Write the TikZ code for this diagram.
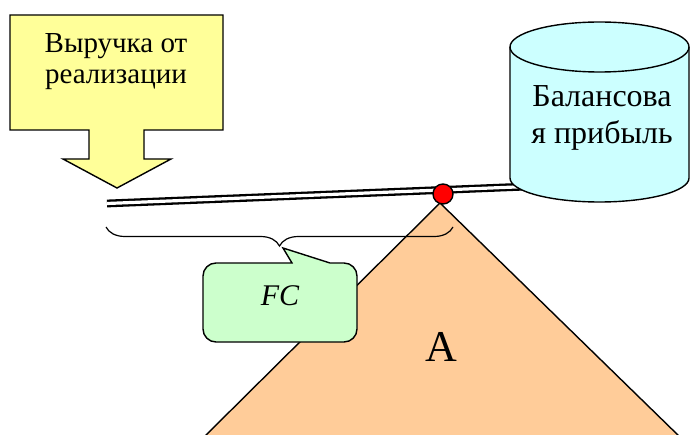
\documentclass[tikz,border=0pt]{standalone}
\usepackage{fontspec}
\setmainfont{Liberation Serif}
\usetikzlibrary{decorations.pathreplacing}
\definecolor{revyellow}{HTML}{FFFF99}
\definecolor{drumcyan}{HTML}{CCFFFF}
\definecolor{notegreen}{HTML}{CCFFCC}
\definecolor{wedgepeach}{HTML}{FFCC99}
\tikzset{
  outline/.style={draw=black, line width=1.4pt, line join=miter},
  labeltext/.style={align=center, inner sep=0pt, anchor=base},
  leverbar/.style={draw=black, double=white, line width=2.3pt, double distance=3.2pt},
}
\begin{document}
\begin{tikzpicture}[x=1pt,y=1pt]
\useasboundingbox (0,0) rectangle (690,434);

% fulcrum wedge
\fill[wedgepeach] (202,-5) -- (440,231) -- (682,-5) -- cycle;
\draw[line width=1.4pt] (202,-5) -- (440,231) -- (682,-5);
\node[labeltext, font=\fontsize{44}{50}\selectfont] (wedge) at (441,73) {A};

% brace under the lever
\coordinate (braceR) at (453,207);
\coordinate (braceL) at (106,207);
\draw[line width=1.2pt, decorate, decoration={brace, amplitude=19pt, aspect=0.5}] (braceR) -- (braceL);

% callout with FC
\path[outline, fill=notegreen]
  (216,171) -- (292,171) -- (283,186) -- (330,171) -- (344,171) arc (90:0:13)
  -- (357,105) arc (0:-90:13) -- (216,92) arc (270:180:13)
  -- (203,158) arc (180:90:13) -- cycle;
\node[labeltext, font=\fontsize{30}{34}\selectfont\itshape] (fc) at (280,129) {FC};

% lever
\coordinate (leverL) at (107,230.5);
\coordinate (leverR) at (540,248);
\draw[leverbar] (leverL) -- (leverR);

% revenue arrow
\path[outline, fill=revyellow]
  (10,419) -- (223,419) -- (223,304) -- (144,304) -- (144,275) -- (171,275)
  -- (117,246) -- (63,275) -- (89,275) -- (89,304) -- (10,304) -- cycle;
\node[labeltext, font=\fontsize{29}{31.5}\selectfont] (revenue) at (116,350) {Выручка от\\реализации};

% profit drum
\path[outline, fill=drumcyan]
  (510,387) -- (510,256) arc (180:360:89.5 and 24) -- (689,387)
  arc (0:180:89.5 and 25) -- cycle;
\draw[line width=1.4pt] (510,387) arc (180:360:89.5 and 25);
\node[labeltext, font=\fontsize{32}{36.6}\selectfont] (profit) at (602,290.7) {Балансова\\я прибыль};

% pivot
\node[circle, fill=red, draw=black, line width=1.4pt, minimum size=20pt, inner sep=0pt] (pivot) at (443,240) {};
\end{tikzpicture}
\end{document}
